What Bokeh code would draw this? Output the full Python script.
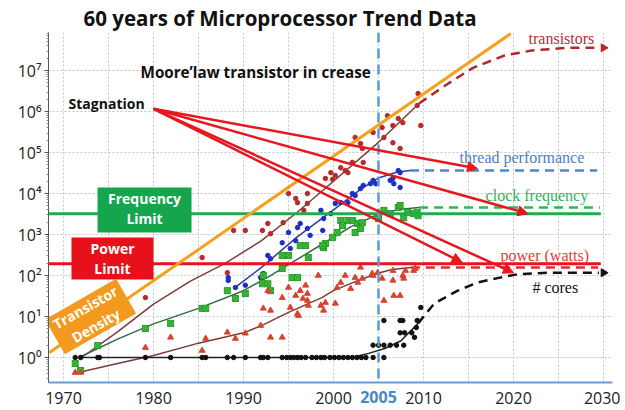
import math
from bokeh.plotting import figure
from bokeh.models import Range1d, FixedTicker, Span, Arrow, NormalHead, ColumnDataSource, LinearAxis
from bokeh.core.properties import value
from bokeh.embed import file_html
from bokeh.resources import INLINE

# ---------------- data ----------------
trans_years = [1979.1, 1985.4, 1988.2, 1988.9, 1990.2, 1992.1, 1992.7, 1993.0, 1994.4, 1995.0,
               1996.0, 1995.8, 1997.1, 1997.1, 1996.7, 1999.1, 1999.7, 2000.2, 2001.6, 1999.9,
               2000.8, 2001.3, 2002.1, 2002.4, 2003.0, 2003.2, 2003.3, 2004.4, 2005.6, 2005.4,
               2006.0, 2006.6, 2006.6, 2007.2, 2007.4, 2007.7, 2009.4, 2009.7, 2009.3]
trans_vals = [29, 275, 117, 1260, 1260, 1260, 1860, 1050, 1950, 10000,
              6000, 7600, 10000, 5750, 3900, 23400, 32400, 27500, 32400, 22400,
              42700, 36300, 57500, 234000, 166000, 126000, 57500, 309000, 234000, 407000,
              794000, 457000, 174000, 676000, 126000, 537000, 2750000, 457000, 1410000]

thread_years = [1988.3, 1988.3, 1989.1, 1990.2, 1991.9, 1992.2, 1992.7, 1993.0, 1994.3, 1995.0,
                1995.2, 1996.0, 1995.8, 1996.3, 1997.1, 1997.4, 1998.6, 1998.8, 1998.9, 1999.7,
                2000.2, 2000.8, 2001.6, 2002.1, 2002.4, 2003.0, 2003.3, 2004.1, 2004.4, 2004.7,
                2006.3, 2006.6, 2006.7, 2007.2, 2007.4, 2007.4]
thread_vals = [89, 76, 51, 58, 89, 112, 309, 257, 631, 1120,
               457, 1480, 708, 1860, 1410, 955, 3890, 1260, 2450, 3240,
               5750, 6030, 6030, 10000, 8910, 13200, 15800, 17400, 20900, 17400,
               20900, 23400, 17400, 36300, 32400, 14100]

clock_years = [1971.3, 1971.9, 1973.8, 1979.1, 1981.9, 1985.4, 1985.8, 1988.2, 1989.1, 1990.2,
               1992.1, 1992.2, 1992.7, 1993.0, 1994.3, 1994.3, 1995.0, 1995.4, 1996.0, 1996.3,
               1996.9, 1997.2, 1998.9, 1999.1, 1998.8, 1999.9, 2000.4, 2000.8, 2001.0, 2001.6,
               2002.1, 2002.4, 2002.7, 2003.0, 2003.2, 2005.0, 2005.6, 2006.3, 2007.2, 2007.4,
               2007.8, 2008.2, 2008.9, 2009.3, 2009.4]
clock_vals = [0.71, 0.48, 1.95, 5.1, 6.8, 15.8, 15.8, 42.7, 27.5, 36.3,
              63, 100, 63, 42.7, 148, 309, 309, 89, 89, 537,
              537, 275, 479, 603, 537, 851, 1120, 2190, 1660, 2190,
              2190, 1120, 1860, 1410, 1950, 2450, 3890, 3240, 4570, 5130,
              2570, 3470, 3240, 3470, 2880]

power_years = [1971.3, 1971.9, 1979.1, 1981.9, 1985.4, 1985.8, 1988.2, 1989.1, 1990.2, 1991.9,
               1992.2, 1992.7, 1993.0, 1993.0, 1994.3, 1994.3, 1995.0, 1995.2, 1995.8, 1996.0,
               1996.1, 1996.3, 1996.6, 1996.9, 1997.1, 1997.1, 1997.2, 1998.3, 1998.6, 1998.9,
               1999.1, 2000.2, 2000.4, 2000.8, 2001.3, 2001.9, 2002.4, 2002.7, 2003.0, 2003.2,
               2004.3, 2004.4, 2004.9, 2005.4, 2005.6, 2006.6, 2006.6, 2006.7, 2007.4, 2007.7,
               2007.8, 2008.0, 2008.9, 2009.1]
power_vals = [0.43, 0.43, 1.74, 3.1, 1.48, 2.9, 4.1, 2.9, 3.9, 6.0,
              15.8, 42.7, 14.1, 3.1, 3.1, 28.8, 51, 16.6, 32.4, 11.7,
              10.5, 42.7, 27.5, 57.5, 36.3, 24.5, 18.6, 100, 18.6, 14.1,
              21.9, 20.9, 51, 67.6, 100, 47.9, 89, 67.6, 158, 85,
              112, 100, 117, 85, 24.5, 132, 76, 32.4, 32.4, 100,
              85, 132, 132, 148]

cores_years = [1971.3, 1971.9, 1973.8, 1974.0, 1979.1, 1981.9, 1985.4, 1985.8, 1988.2, 1988.9,
               1990.2, 1991.9, 1992.2, 1992.7, 1994.3, 1994.8, 1995.2, 1995.6, 1996.0, 1996.4,
               1996.9, 1997.6, 1998.1, 1998.6, 1999.0, 1999.6, 2000.1, 2000.6, 2001.1, 2001.6,
               2002.1, 2002.6, 2003.1, 2003.6, 2004.4, 2005.6, 2004.4, 2005.0, 2005.6, 2006.3,
               2007.0, 2007.8, 2007.4, 2007.9, 2008.7, 2005.6, 2007.4, 2007.7, 2009.3, 2009.0,
               2009.2, 2009.7]
cores_vals = [1, 1, 1, 1, 1, 1, 1, 1, 1, 1,
              1, 1, 1, 1, 1, 1, 1, 1, 1, 1,
              1, 1, 1, 1, 1, 1, 1, 1, 1, 1,
              1, 1, 1, 1, 1, 1, 2, 2, 2, 2,
              2, 2, 4, 4, 4, 8, 8, 8, 8, 3.1,
              5.4, 16.6]

# trend curves
trans_trend_years = [1972, 1976, 1980, 1984, 1988, 1992, 1996, 2000, 2005, 2009.5]
trans_trend_vals = [1, 4.2, 20, 71, 200, 710, 3550, 20000, 178000, 1580000]
trans_proj_years = [2009.5, 2012.5, 2015.5, 2019, 2022, 2026, 2029.5]
trans_proj_vals = [1580000, 4470000, 11700000, 23400000, 30900000, 36000000, 36000000]

thread_trend_years = [1989, 1992, 1996, 2000, 2003, 2005, 2007, 2008.5]
thread_trend_vals = [50, 158, 890, 3980, 12600, 24000, 33100, 36300]
thread_proj_years = [2008.5, 2029.3]
thread_proj_vals = [36300, 36300]

clock_trend_years = [1972, 1976, 1980, 1985, 1990, 1993, 1996, 1999, 2002, 2005, 2007.5, 2009.5]
clock_trend_vals = [1.07, 2.8, 6.6, 15.8, 42.7, 100, 251, 631, 1580, 3160, 4170, 4570]
clock_proj_years = [2009.5, 2029.6]
clock_proj_vals = [4570, 4570]

power_trend_years = [1972, 1976, 1980, 1985, 1990, 1992, 1995, 1998.7, 2000, 2002.4, 2004.8, 2006.5, 2008.6]
power_trend_vals = [0.45, 0.71, 1.12, 2.24, 4.0, 6.0, 12.6, 28.8, 42.7, 70.8, 112, 141, 158]
power_proj_years = [2008.6, 2029.4]
power_proj_vals = [158, 158]

cores_trend_years = [1972, 2002, 2003.9, 2005.7, 2007.5, 2009.4]
cores_trend_vals = [1, 1, 1.26, 1.66, 2.57, 6.8]
cores_proj_years = [2009.4, 2011.2, 2013.8, 2016, 2018.5, 2020.4, 2024, 2029.5]
cores_proj_vals = [6.8, 20.9, 42.7, 67.6, 89, 107, 117, 117]

density_years = [1968.4, 2019.7]
density_vals = [1.3, 80000000]

frequency_limit = 3200
power_limit = 195
limit_years = [1968.33, 2029.7]
turn_year = 2005

x_tick_labels = [1970, 1980, 1990, 2000, 2010, 2020, 2030]
y_ticks = [1, 10, 100, 1000, 10000, 100000, 1000000, 10000000]
y_tick_labels = ["10\u2070", "10\u00b9", "10\u00b2", "10\u00b3", "10\u2074", "10\u2075", "10\u2076", "10\u2077"]

# ---------------- figure ----------------
FONT = "Open Sans"
Y_LO = 10 ** -0.61
p = figure(width=620, height=408, y_axis_type="log",
           x_range=Range1d(1968.33, 2031.0), y_range=Range1d(Y_LO, 10 ** 7.93),
           output_backend="svg", toolbar_location=None,
           min_border_left=48, min_border_right=8, min_border_top=32, min_border_bottom=26)
p.outline_line_color = None
p.background_fill_color = "white"
p.border_fill_color = "white"

p.title.text = "60 years of Microprocessor Trend Data"
p.title.text_font = FONT
p.title.text_font_style = "bold"
p.title.text_font_size = "20.5px"
p.title.text_color = "#111111"
p.title.align = "left"
p.title.offset = 35
p.title.standoff = 2

p.xaxis.ticker = FixedTicker(ticks=x_tick_labels)
p.xaxis.major_tick_line_color = None
p.xaxis.minor_tick_line_color = None
p.xaxis.axis_line_color = "#6f9bd1"
p.xaxis.axis_line_width = 2
p.xaxis.major_label_text_font = FONT
p.xaxis.major_label_text_font_size = "16px"
p.xaxis.major_label_text_color = "#222222"
p.xaxis.major_label_standoff = 3

# highlighted 2005 tick label: a second axis pulled up into the first one's row
ax2005 = LinearAxis(ticker=FixedTicker(ticks=[turn_year]),
                    axis_line_color=None, major_tick_line_color=None, minor_tick_line_color=None,
                    major_tick_out=0, major_tick_in=0, minor_tick_out=0, minor_tick_in=0,
                    major_label_text_font=FONT, major_label_text_font_style="bold",
                    major_label_text_font_size="16px", major_label_text_color="#4a86c8",
                    major_label_standoff=-16)
p.add_layout(ax2005, "below")

minor = [m * d for d in [0.1, 1, 10, 100, 1000, 10000, 100000, 1000000, 10000000] for m in range(2, 10)]
p.yaxis.ticker = FixedTicker(ticks=y_ticks, minor_ticks=minor)
p.yaxis.major_label_overrides = {float(t): l for t, l in zip(y_ticks, y_tick_labels)}
p.yaxis.axis_line_color = "#555555"
p.yaxis.major_tick_line_color = "#555555"
p.yaxis.minor_tick_line_color = "#888888"
p.yaxis.major_tick_out = 4
p.yaxis.major_tick_in = 0
p.yaxis.minor_tick_out = 2
p.yaxis.minor_tick_in = 0
p.yaxis.major_label_text_font = FONT
p.yaxis.major_label_text_font_size = "16px"
p.yaxis.major_label_text_color = "#222222"
p.yaxis.major_label_standoff = 3

p.xgrid.ticker = FixedTicker(ticks=list(range(1970, 2031, 5)))
p.ygrid.ticker = FixedTicker(ticks=y_ticks)
for g in (p.xgrid, p.ygrid):
    g.grid_line_color = "#c4c4c4"
    g.grid_line_dash = "2 2"
    g.grid_line_width = 1

# 2005 marker
p.add_layout(Span(location=turn_year, dimension="height", line_color="#5b9bd5",
                  line_width=2.5, line_dash="10 6"))

# trend curves
p.line(trans_trend_years, trans_trend_vals, line_color="#7a3e34", line_width=1.5)
p.line(thread_trend_years, thread_trend_vals, line_color="#2b3c9e", line_width=1.5)
p.line(clock_trend_years, clock_trend_vals, line_color="#2f6b44", line_width=1.5)
p.line(power_trend_years, power_trend_vals, line_color="#7a3e34", line_width=1.5)
p.line(cores_trend_years, cores_trend_vals, line_color="#222222", line_width=1.5)

# projections
p.line(trans_proj_years, trans_proj_vals, line_color="#b0282e", line_width=2.5, line_dash="9 6")
p.line(thread_proj_years, thread_proj_vals, line_color="#4f86c6", line_width=2.5, line_dash="9 6")
p.line(clock_proj_years, clock_proj_vals, line_color="#2eb84f", line_width=2.5, line_dash="9 6")
p.line(power_proj_years, power_proj_vals, line_color="#e8282c", line_width=2.5, line_dash="9 6")
p.line(cores_proj_years, cores_proj_vals, line_color="#111111", line_width=2.5, line_dash="9 6")
p.scatter([trans_proj_years[-1] + 0.5], [trans_proj_vals[-1]], marker="triangle", angle=-math.pi / 2,
          size=8, fill_color="#b0282e", line_color="#b0282e")
p.scatter([cores_proj_years[-1] + 0.5], [cores_proj_vals[-1]], marker="triangle", angle=-math.pi / 2,
          size=8, fill_color="#111111", line_color="#111111")

# scatter data
p.scatter(trans_years, trans_vals, marker="circle", size=4.5, fill_color="#b52a2a", line_color="#b52a2a")
p.scatter(thread_years, thread_vals, marker="circle", size=4.5, fill_color="#1c2fc4", line_color="#1c2fc4")
p.scatter(clock_years, clock_vals, marker="square_x", size=6, fill_color="#3cc43c", line_color="#2a9a2a")
p.scatter(power_years, power_vals, marker="triangle", size=6, fill_color="#d9432c", line_color="#d9432c")
p.scatter(cores_years, cores_vals, marker="circle", size=4.5, fill_color="#111111", line_color="#111111")

# limits
p.line(limit_years, [frequency_limit, frequency_limit], line_color="#22ab4d", line_width=3)
p.line(limit_years, [power_limit, power_limit], line_color="#e8141c", line_width=3)

# transistor density (Moore's law) line
p.line(density_years, density_vals, line_color="#f4a11c", line_width=3)

# stagnation arrows
arrows = ColumnDataSource(dict(x0=[1980.0] * 4, y0=[1170000] * 4,
                               x1=[2016.0, 2021.6, 2014.3, 2020.0],
                               y1=[40700, 3240, 209, 117]))
p.add_layout(Arrow(end=NormalHead(size=10, fill_color="#e8161e", line_color="#e8161e"),
                   x_start="x0", y_start="y0", x_end="x1", y_end="y1", source=arrows,
                   line_color="#e8161e", line_width=2.5))

# labelled boxes
p.rect([1979.0], [3960], width=94, height=45, width_units="screen", height_units="screen",
       fill_color="#14a54d", line_color=None)
p.rect([1975.44], [260], width=82, height=42, width_units="screen", height_units="screen",
       fill_color="#e8101a", line_color=None)
p.rect([1973.0], [10], width=82, height=40, width_units="screen", height_units="screen",
       angle=0.52, fill_color="#f39a1e", line_color=None)
box_text = dict(text_font=value(FONT), text_font_style="bold", text_font_size="14px",
                text_color="white", text_align="center", text_baseline="middle")
p.text([1979.0, 1979.0, 1975.44, 1975.44], [7550, 2455, 456, 148],
       text=["Frequency", "Limit", "Power", "Limit"], **box_text)
p.text([1972.42, 1973.58], [16.7, 6.0], text=["Transistor", "Density"], angle=0.52, **box_text)

# bold annotations
p.text([1978.56], [9500000], text=["Moore\u2019law transistor in crease"], text_font=value(FONT),
       text_font_style="bold", text_font_size="15.2px", text_color="#111111",
       text_align="left", text_baseline="middle")
p.text([1970.56], [1580000], text=["Stagnation"], text_font=value(FONT),
       text_font_style="bold", text_font_size="14px", text_color="#111111",
       text_align="left", text_baseline="middle")

# serif series labels
serif = dict(text_font=value("Liberation Serif"), text_font_size="16px",
             text_align="left", text_baseline="middle")
p.text([2021.67], [60000000], text=["transistors"], text_color="#b0303a", **serif)
p.text([2014.0], [75900], text=["thread performance"], text_color="#4a7fbf", **serif)
p.text([2016.9], [8900], text=["clock frequency"], text_color="#36b35a", **serif)
p.text([2018.56], [309], text=["power (watts)"], text_color="#e43b3b", **serif)
p.text([2022.1], [51], text=["# cores"], text_color="#111111", **serif)

open("out.html", "w").write(file_html(p, INLINE))
